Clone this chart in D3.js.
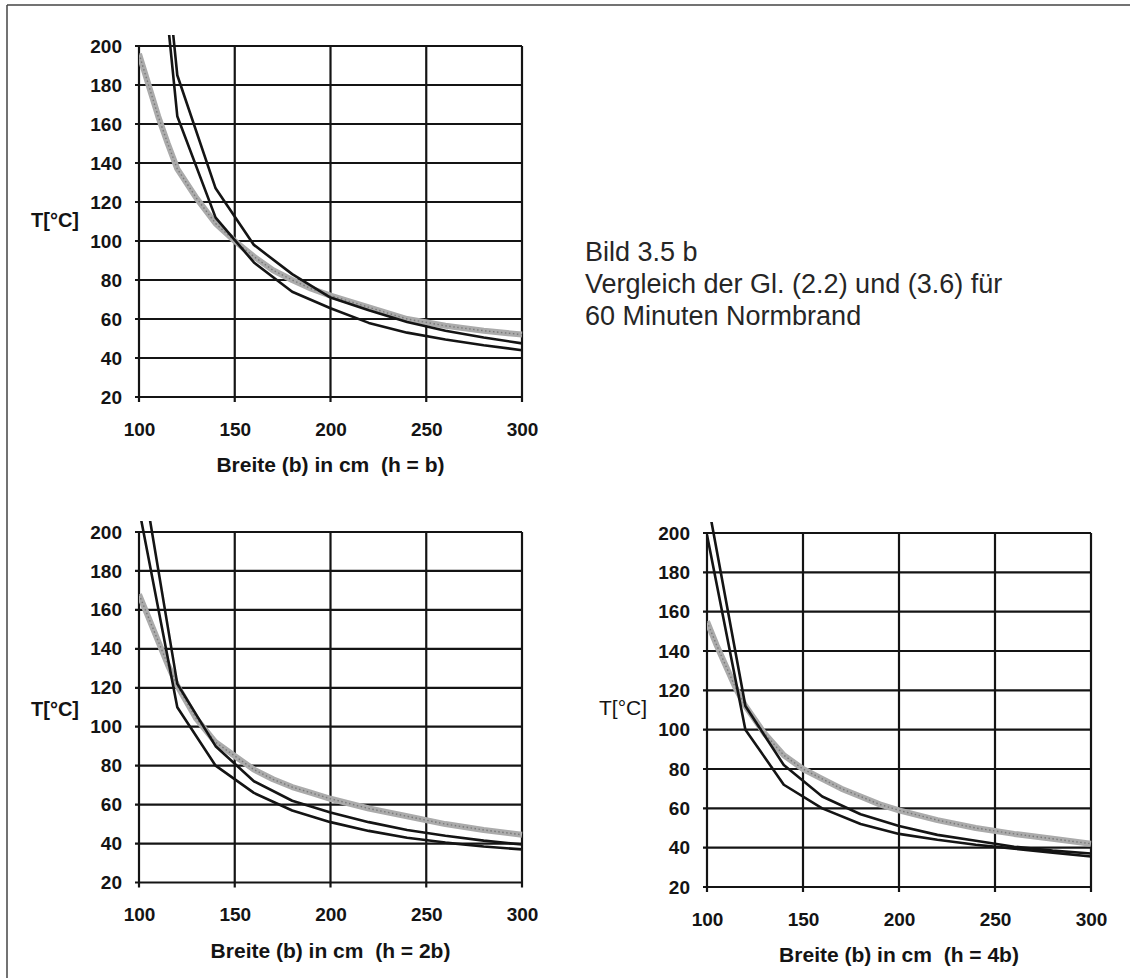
<!DOCTYPE html>
<html><head><meta charset="utf-8">
<script src="https://cdn.jsdelivr.net/npm/d3@7"></script>
<style>
body{margin:0;background:#fff}
svg{display:block}
text{font-family:"Liberation Sans",Arial,Helvetica,sans-serif}
</style>
</head><body>
<svg id="c" width="1130" height="978"></svg>
<script>
// ---------- data ----------
const xTicks = [100, 150, 200, 250, 300];
const yTicks = [20, 40, 60, 80, 100, 120, 140, 160, 180, 200];
const blackX = [100, 120, 140, 160, 180, 200, 220, 240, 260, 280, 300];
const grayX  = [100, 105, 110, 115, 120, 130, 140, 150, 160, 170, 180, 190, 200, 220, 240, 260, 280, 300];

// h = b
const tempA_hb    = [360, 164, 112, 89, 74, 65.5, 58, 53, 49.5, 46.5, 44];
const tempB_hb    = [380, 185, 127, 98, 83, 71, 64.5, 58.5, 54, 50.5, 47.5];
const tempGray_hb = [196, 180, 164, 150, 137, 122, 109, 100, 92, 85, 80, 75.5, 72, 66, 60, 56.5, 54, 52];
// h = 2b
const tempA_h2b    = [212, 110, 80, 66, 57, 51, 46.5, 43, 40.5, 38.5, 37];
const tempB_h2b    = [240, 122, 90, 72, 62, 56, 51, 47, 44, 41.5, 39.5];
const tempGray_h2b = [168, 156, 144, 132, 121, 104, 92, 85, 78, 73, 69, 66, 63, 58, 54, 50, 47, 44.5];
// h = 4b
const tempA_h4b    = [199, 100, 72, 60, 52, 47, 44, 41.5, 39.5, 37.5, 35.5];
const tempB_h4b    = [218, 112, 82, 66, 57, 51, 46.5, 43.5, 40.5, 38.5, 37];
const tempGray_h4b = [155, 143, 132, 121, 112, 98, 87, 80, 75, 70, 66, 62, 59, 54, 50, 47, 44.5, 42];

const xTitles = ["Breite (b) in cm  (h = b)", "Breite (b) in cm  (h = 2b)", "Breite (b) in cm  (h = 4b)"];
const yTitle = "T[°C]";
const captionLines = ["Bild 3.5 b", "Vergleich der Gl. (2.2) und (3.6) für", "60 Minuten Normbrand"];

// ---------- layout ----------
const svg = d3.select("#c");
const INK = "#141414";

// page frame (scan border)
svg.append("line").attr("x1", 7).attr("x2", 1130).attr("y1", 5).attr("y2", 5)
  .attr("stroke", "#444").attr("stroke-width", 1.5);
svg.append("line").attr("x1", 7).attr("x2", 7).attr("y1", 5).attr("y2", 978)
  .attr("stroke", "#444").attr("stroke-width", 1.5);

const charts = [
  {id: "c1", left: 139, right: 522, top: 46, bottom: 397, A: tempA_hb, B: tempB_hb, G: tempGray_hb,
   title: xTitles[0], tx: 31, ty: 227, tw: "bold", ts: 20},
  {id: "c2", left: 139, right: 522, top: 532, bottom: 882.5, A: tempA_h2b, B: tempB_h2b, G: tempGray_h2b,
   title: xTitles[1], tx: 31, ty: 716, tw: "bold", ts: 20},
  {id: "c3", left: 707, right: 1091, top: 533, bottom: 887, A: tempA_h4b, B: tempB_h4b, G: tempGray_h4b,
   title: xTitles[2], tx: 599, ty: 715, tw: "normal", ts: 21}
];

charts.forEach(c => {
  const x = d3.scaleLinear().domain([100, 300]).range([c.left, c.right]);
  const y = d3.scaleLinear().domain([20, 200]).range([c.bottom, c.top]);
  const g = svg.append("g");

  // grid lines (with small outward ticks)
  g.selectAll(".hg").data(yTicks).enter().append("line")
    .attr("x1", c.left - 4).attr("x2", c.right)
    .attr("y1", d => y(d)).attr("y2", d => y(d))
    .attr("stroke", INK).attr("stroke-width", 2.2);
  g.selectAll(".vg").data(xTicks).enter().append("line")
    .attr("x1", d => x(d)).attr("x2", d => x(d))
    .attr("y1", c.top).attr("y2", c.bottom + 5)
    .attr("stroke", INK).attr("stroke-width", 2.2);

  // axis labels through d3 axes
  const ya = g.append("g").attr("transform", `translate(${c.left},0)`)
    .call(d3.axisLeft(y).tickValues(yTicks).tickSize(0).tickPadding(17).tickFormat(d3.format("d")));
  ya.select(".domain").remove();
  ya.selectAll("text").attr("font-size", 19).attr("font-weight", "bold").attr("fill", INK)
    .attr("font-family", "Liberation Sans, Arial, sans-serif");

  const xa = g.append("g").attr("transform", `translate(0,${c.bottom})`)
    .call(d3.axisBottom(x).tickValues(xTicks).tickSize(0).tickPadding(25.5).tickFormat(d3.format("d")));
  xa.select(".domain").remove();
  xa.selectAll("text").attr("font-size", 19).attr("font-weight", "bold").attr("fill", INK)
    .attr("font-family", "Liberation Sans, Arial, sans-serif");

  // titles
  g.append("text").attr("x", (c.left + c.right) / 2).attr("y", c.bottom + 75)
    .attr("text-anchor", "middle").attr("font-size", 21).attr("font-weight", "bold")
    .attr("fill", INK).style("white-space", "pre").text(c.title);
  g.append("text").attr("x", c.tx).attr("y", c.ty)
    .attr("font-size", c.ts).attr("font-weight", c.tw).attr("fill", INK).text(yTitle);

  // clip (lines run slightly above the 200 line, as in the original)
  const clipId = "clip-" + c.id;
  svg.append("clipPath").attr("id", clipId).append("rect")
    .attr("x", c.left).attr("y", c.top - 11)
    .attr("width", c.right - c.left + 2).attr("height", c.bottom - c.top + 11);

  const lg = g.append("g").attr("clip-path", `url(#${clipId})`);
  const line = d3.line().x(d => x(d[0])).y(d => y(d[1]));

  const grayData = grayX.map((v, i) => [v, c.G[i]]);
  lg.append("path").datum(grayData).attr("d", line)
    .attr("fill", "none").attr("stroke", "#ababab").attr("stroke-width", 6)
    .attr("stroke-linejoin", "round");
  lg.append("path").datum(grayData).attr("d", line)
    .attr("fill", "none").attr("stroke", "#7a7a7a").attr("stroke-width", 1.4)
    .attr("stroke-dasharray", "1.5 2.5");

  [c.A, c.B].forEach(arr => {
    lg.append("path").datum(blackX.map((v, i) => [v, arr[i]])).attr("d", line)
      .attr("fill", "none").attr("stroke", INK).attr("stroke-width", 2.6)
      .attr("stroke-linejoin", "round");
  });
});

// caption
const cap = svg.append("text").attr("x", 585).attr("y", 261)
  .attr("font-size", 27).attr("fill", "#262626");
captionLines.forEach((t, i) => {
  cap.append("tspan").attr("x", 585).attr("dy", i === 0 ? 0 : 32).text(t);
});
</script>
</body></html>
